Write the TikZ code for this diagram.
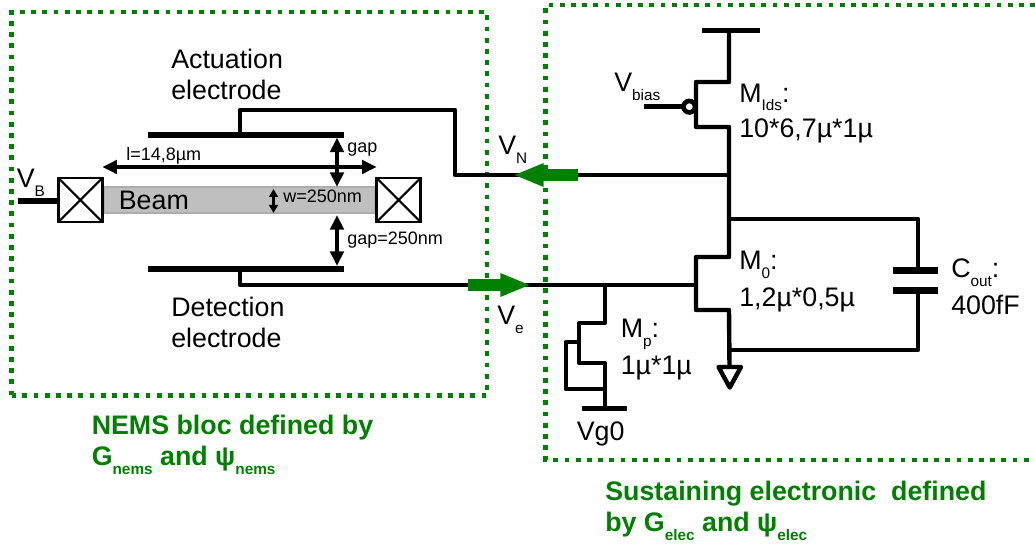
\documentclass[tikz,border=0pt]{standalone}
\usepackage{fontspec}
\setmainfont{Liberation Sans}
\usetikzlibrary{arrows.meta,positioning}
\definecolor{blocgreen}{HTML}{008000}
\newcommand{\subtxt}[1]{\raisebox{-6.6pt}{\fontsize{11.5}{12}\selectfont #1}}
\begin{document}
\begin{tikzpicture}[x=0.75pt, y=-0.75pt,
  wire/.style={line width=3.3pt},
  bar/.style={line width=5pt},
  bloc/.style={blocgreen, line width=3.7pt, dash pattern=on 3.6pt off 4.8pt},
  greenarrow/.style={blocgreen, line width=9.5pt, -{Triangle[length=23pt,width=16pt]}},
  dimarrow/.style={line width=3.4pt, {Triangle[length=11pt,width=10pt]}-{Triangle[length=11pt,width=10pt]}},
  bigtxt/.style={anchor=base west, inner sep=0pt, align=left, font=\fontsize{20.1}{23.25}\selectfont},
  smalltxt/.style={anchor=base west, inner sep=0pt, font=\fontsize{13.5}{15}\selectfont},
  greentxt/.style={anchor=base west, inner sep=0pt, blocgreen, font=\fontsize{20.1}{23.25}\bfseries\selectfont},
  anchorbox/.style={draw, line width=2pt, outer sep=0pt, inner sep=0pt, minimum size=33pt,
    path picture={\draw[line width=1.6pt] (path picture bounding box.north west) -- (path picture bounding box.south east)
      (path picture bounding box.north east) -- (path picture bounding box.south west);}}]
\useasboundingbox (0,0) rectangle (1035,548);

% blocs
\draw[bloc] (11.5,395.5) rectangle (487,12);
\draw[bloc] (1035,5) -| (545.7,460) -- (1035,460);

% beam
\node (beam) [draw=black!32, fill=black!25, line width=0.8pt, outer sep=0pt, inner xsep=11pt, inner ysep=0pt,
  minimum height=19.5pt, text width=181pt, font=\fontsize{20.1}{23}\selectfont] at (239.5,200) {Beam};
\node (ancL) [anchorbox, left=1.4pt of beam] {};
\node (ancR) [anchorbox, right=1.4pt of beam] {};
\coordinate (vb) at (18,201);
\draw[line width=3.8pt] (vb) -- (vb -| ancL.west);
\node (vbtxt) [bigtxt] at (16.5,188) {V\subtxt{B}};

% electrodes
\coordinate (actL) at (148,135);
\coordinate (actR) at (344,135);
\coordinate (actT) at (240,135);
\coordinate (detL) at (148,269);
\coordinate (detR) at (344,269);
\coordinate (detT) at (240,269);
\coordinate (vnA) at (455,110);
\coordinate (vnB) at (729,175);
\coordinate (veA) at (696,285);
\draw[bar] (actL) -- (actR);
\draw[bar] (detL) -- (detR);
\draw[wire, line join=round] (actT) |- (vnA) |- (vnB);
\draw[wire, line join=round] (detT) |- (veA);
\node (acttxt) [bigtxt] at (171,99.5) {Actuation\\electrode};
\node (dettxt) [bigtxt] at (171,347.5) {Detection\\electrode};

% dimensions
\coordinate (gapA) at (337,137.5);
\coordinate (gapB) at (337,187);
\coordinate (gapC) at (337,215);
\coordinate (gapD) at (337,266);
\coordinate (wA) at (273.5,189);
\coordinate (wB) at (273.5,213);
\draw[dimarrow] (ancL.north east |- 0,167) -- (ancR.north west |- 0,167);
\draw[dimarrow] (gapA) -- (gapB);
\draw[dimarrow] (gapC) -- (gapD);
\draw[line width=1.8pt, {Triangle[length=6pt,width=6.5pt]}-{Triangle[length=6pt,width=6.5pt]}] (wA) -- (wB);
\node (ltxt) [smalltxt] at (126,160.5) {l=14,8µm};
\node (gaptxt) [smalltxt] at (347,152.5) {gap};
\node (wtxt) [smalltxt] at (283,202.5) {w=250nm};
\node (gapntxt) [smalltxt] at (347,244.5) {gap=250nm};

% pmos, nmos, load
\coordinate (vdd) at (729,30);
\coordinate (vddL) at (702,30.5);
\coordinate (vddR) at (760,30.5);
\coordinate (pmA) at (696,82);
\coordinate (pmB) at (729,127);
\coordinate (nmA) at (696,257);
\coordinate (nmB) at (729,310);
\coordinate (gnd) at (729.5,367);
\coordinate (vbias) at (644,106.7);
\draw[bar, line width=4.2pt] (vddL) -- (vddR);
\draw[wire, line join=round] (vdd) |- (pmA) |- (pmB) |- (nmA) |- (nmB) -- (gnd);
\draw[wire] (vbias) -- (689,106.7);
\node (bubble) [draw, circle, fill=white, line width=3.5pt, inner sep=0pt, minimum size=8.6pt] at (689.3,106.7) {};
\draw[wire, line join=round, fill=white] (gnd) ++(-11,0) -- ++(22.5,0) -- ++(-11.25,20.5) -- cycle;
\node (vbiastxt) [bigtxt] at (614,91.7) {V\subtxt{bias}};
\node (mitxt) [bigtxt] at (739,137.7) {M\subtxt{Ids}:\\[3.5pt]10*6,7µ*1µ};
\node (m0txt) [bigtxt] at (739,307) {M\subtxt{0}:\\[4.75pt]1,2µ*0,5µ};

% capacitor
\coordinate (capA) at (729,219);
\coordinate (capB) at (918,270.7);
\coordinate (capC) at (918,290.7);
\coordinate (capD) at (729,350);
\draw[wire, line join=round] (capA) -| (capB);
\draw[wire, line join=round] (capC) |- (capD);
\draw[bar] (892.7,270.7) -- (938.3,270.7);
\draw[bar] (892.7,290.7) -- (938.3,290.7);
\node (ctxt) [bigtxt] at (951,315) {C\subtxt{out}:\\[4.5pt]400fF};

% mp
\coordinate (mpT) at (605,285);
\coordinate (mpA) at (579,323);
\coordinate (mpB) at (605,363);
\coordinate (mpC) at (605,408);
\coordinate (mpD) at (579,342);
\coordinate (mpE) at (565.7,389);
\draw[wire, line join=round] (mpT) |- (mpA) |- (mpB) -- (mpC);
\draw[wire, line join=round] (mpD) -| (mpE) -- (mpE -| mpB);
\draw[bar, line width=4.2pt] (581.7,408.5) -- (627.3,408.5);
\node (mptxt) [bigtxt] at (620.5,375) {M\subtxt{p}:\\[4.5pt]1µ*1µ};
\node (vg0txt) [bigtxt] at (576.5,440.7) {Vg0};

% signals
\coordinate (vnF) at (578,175);
\coordinate (vnG) at (513,175);
\coordinate (veF) at (468,285);
\coordinate (veG) at (531,285);
\draw[greenarrow] (vnF) -- (vnG);
\draw[greenarrow] (veF) -- (veG);
\node (vntxt) [bigtxt] at (498,155) {V\subtxt{N}};
\node (vetxt) [bigtxt] at (497,325) {V\subtxt{e}};

% captions
\node (nemstxt) [greentxt, align=left] at (91.5,466)
  {NEMS bloc defined by\\G\subtxt{nems} and ψ\subtxt{nems}};
\node (electxt) [greentxt, align=left] at (605,531.5)
  {Sustaining electronic\ \ defined\\by G\subtxt{elec} and ψ\subtxt{elec}};
\end{tikzpicture}
\end{document}
